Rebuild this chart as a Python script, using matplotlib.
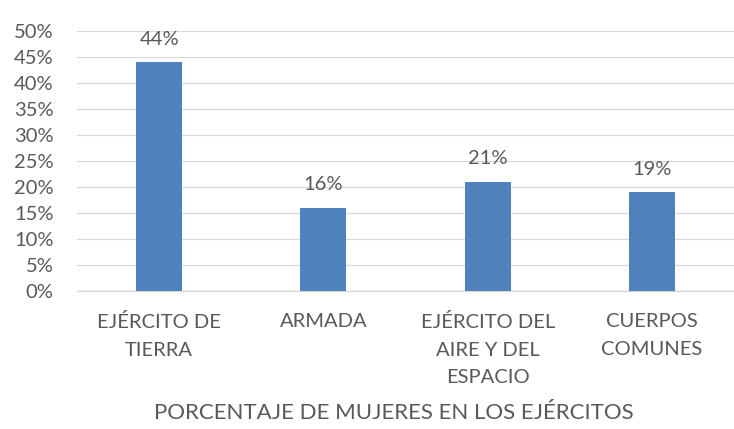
import matplotlib.pyplot as plt
import numpy as np

plt.rcParams['font.family'] = ['Lato', 'DejaVu Sans']

categorias = ['EJÉRCITO DE\nTIERRA', 'ARMADA', 'EJÉRCITO DEL\nAIRE Y DEL\nESPACIO', 'CUERPOS\nCOMUNES']
porcentajes = [44, 16, 21, 19]
titulo = 'PORCENTAJE DE MUJERES EN LOS EJÉRCITOS'

gris = '#595959'

fig = plt.figure(figsize=(7.34, 4.29), dpi=100)
ax = fig.add_axes([0.105, 0.3217, 0.895, 0.606])

x = np.arange(len(categorias))
ax.bar(x, porcentajes, width=0.28, color='#4F81BD', zorder=3)

for xi, v in zip(x, porcentajes):
    ax.text(xi, v + 2.8, f'{v}%', ha='center', va='bottom', fontsize=14.5, color=gris)

ax.set_xlim(-0.5, len(categorias) - 0.5)
ax.set_ylim(0, 50)
ax.set_yticks(np.arange(0, 51, 5))
ax.set_yticklabels([f'{t}%' for t in range(0, 51, 5)], fontsize=14.5, color=gris)
ax.set_xticks(x)
ax.set_xticklabels(categorias, fontsize=14.5, color=gris, linespacing=1.75)
ax.tick_params(axis='both', length=0)
ax.tick_params(axis='x', pad=16)
ax.tick_params(axis='y', pad=17)

ax.grid(axis='y', color='#D9D9D9', linewidth=0.9, zorder=0)
for s in ['top', 'right', 'left']:
    ax.spines[s].set_visible(False)
ax.spines['bottom'].set_color('#D9D9D9')
ax.spines['bottom'].set_linewidth(1.0)

fig.text(0.537, 0.037, titulo, ha='center', va='center', fontsize=16, color=gris)

fig.savefig('out.png', dpi=100)
